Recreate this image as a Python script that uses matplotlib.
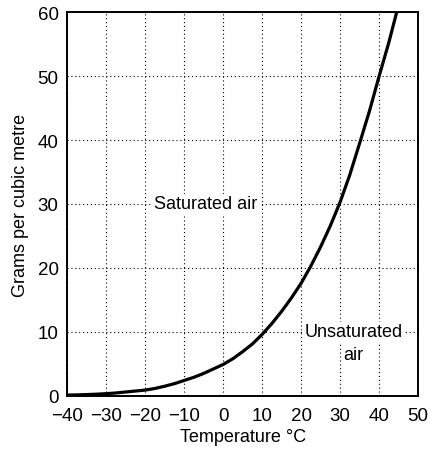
import matplotlib.pyplot as plt

plt.rcParams['font.family'] = ['Liberation Sans', 'DejaVu Sans']

temperatura = [-40, -37.5, -35, -32.5, -30, -27.5, -25, -22.5, -20, -17.5, -15, -12.5, -10, -7.5,
               -5, -2.5, 0, 2.5, 5, 7.5, 10, 12.5, 15, 17.5, 20, 22.5, 25, 27.5, 30, 32.5, 35,
               37.5, 40, 42.5, 44.5]
gramas = [0.12, 0.15, 0.2, 0.26, 0.34, 0.45, 0.6, 0.75, 0.9, 1.15, 1.5, 1.9, 2.4, 2.9,
          3.5, 4.2, 4.9, 5.8, 6.9, 8.1, 9.6, 11.3, 13.2, 15.3, 17.6, 20.3, 23.3, 26.6, 30.3, 34.6, 39.5,
          44.5, 50.0, 55.3, 60.0]
xticks = [-40, -30, -20, -10, 0, 10, 20, 30, 40, 50]
yticks = [0, 10, 20, 30, 40, 50, 60]

fig = plt.figure(figsize=(4.32, 4.52), dpi=100)
ax = fig.add_axes([0.155, 0.122, 0.813, 0.849])
ax.plot(temperatura, gramas, color="black", lw=2.3, solid_capstyle="butt", zorder=3)

ax.set_xlim(-40, 50)
ax.set_ylim(0, 60)
ax.set_xticks(xticks)
ax.set_yticks(yticks)
ax.tick_params(length=0, labelsize=13.5)
ax.tick_params(axis="x", pad=8)
ax.tick_params(axis="y", pad=6)
ax.grid(True, color="black", linestyle=(0, (1, 2.5)), lw=0.8)
for s in ax.spines.values():
    s.set_linewidth(1.4)

caixa = dict(facecolor="white", edgecolor="none", pad=1)
ax.text(-4.5, 30, "Saturated air", ha="center", va="center", fontsize=13, bbox=caixa, zorder=4)
ax.text(33.5, 10, "Unsaturated", ha="center", va="center", fontsize=13, bbox=caixa, zorder=4)
ax.text(33.5, 6.4, "air", ha="center", va="center", fontsize=13, bbox=caixa, zorder=4)

ax.set_xlabel("Temperature °C", fontsize=13, labelpad=3)
ax.set_ylabel("Grams per cubic metre", fontsize=13, labelpad=6)

fig.savefig("out.png", dpi=100)
